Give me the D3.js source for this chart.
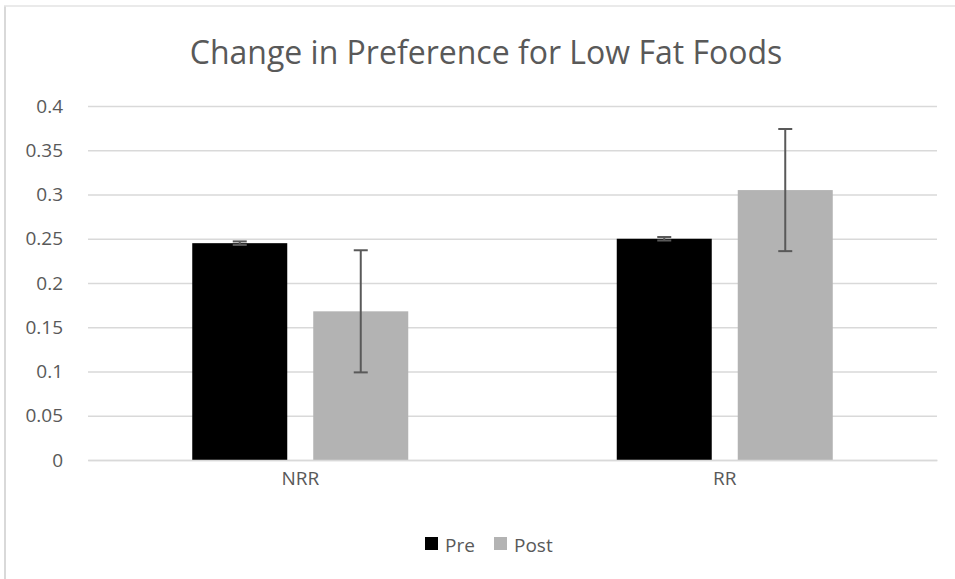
<!DOCTYPE html>
<html><head><meta charset="utf-8">
<script src="https://cdn.jsdelivr.net/npm/d3@7"></script>
<style>body{margin:0;background:#fff}svg{display:block}text{font-family:"Open Sans","Noto Sans",sans-serif;fill:#595959}</style>
</head><body><svg id="c" width="955" height="579"></svg>
<script>
const categories = ["NRR", "RR"];
const seriesNames = ["Pre", "Post"];
const seriesColors = ["#000000", "#b3b3b3"];
const preValues = [0.245, 0.250];
const postValues = [0.168, 0.305];
const preErrors = [0.002, 0.002];
const postErrors = [0.069, 0.069];
const yTicks = [0, 0.05, 0.1, 0.15, 0.2, 0.25, 0.3, 0.35, 0.4];
const title = "Change in Preference for Low Fat Foods";

const svg = d3.select("#c");
// chart frame
svg.append("line").attr("x1",5).attr("x2",5).attr("y1",6).attr("y2",579).attr("stroke","#d9d9d9").attr("stroke-width",2);
svg.append("line").attr("x1",4).attr("x2",955).attr("y1",6).attr("y2",6).attr("stroke","#e3e3e3").attr("stroke-width",1.5);

const m = {l: 88, r: 937, t: 106, b: 460};
const x0 = d3.scaleBand().domain(categories).range([m.l, m.r]).paddingInner(0).paddingOuter(0);
const y = d3.scaleLinear().domain([0, 0.4]).range([m.b, m.t]);

const barW = 95, gap = 26;
const x1 = d3.scaleOrdinal().domain(seriesNames).range([-(gap/2+barW), gap/2]);

// gridlines
const yAxis = d3.axisLeft(y).tickValues(yTicks).tickSize(-(m.r-m.l)).tickPadding(25).tickFormat(d3.format(""));
const ga = svg.append("g").attr("transform", `translate(${m.l},0)`).call(yAxis);
ga.select(".domain").remove();
ga.selectAll(".tick line").attr("stroke", "#d9d9d9").attr("stroke-width", 1.5);
ga.selectAll(".tick text").attr("font-size", 19).style("fill", "#595959");

const data = categories.map((c, i) => ({cat: c, vals: [
  {s: "Pre", v: preValues[i], e: preErrors[i]},
  {s: "Post", v: postValues[i], e: postErrors[i]}
]}));

const g = svg.append("g");
const grp = g.selectAll("g.cat").data(data).join("g").attr("class","cat")
  .attr("transform", d => `translate(${x0(d.cat) + x0.bandwidth()/2},0)`);
grp.selectAll("rect").data(d => d.vals).join("rect")
  .attr("x", d => x1(d.s)).attr("width", barW)
  .attr("y", d => y(d.v)).attr("height", d => y(0) - y(d.v))
  .attr("fill", (d, i) => seriesColors[i]);

// error bars
const eb = grp.selectAll("g.eb").data(d => d.vals).join("g").attr("class","eb");
eb.append("line").attr("x1", d => x1(d.s)+barW/2).attr("x2", d => x1(d.s)+barW/2)
  .attr("y1", d => y(d.v + d.e)).attr("y2", d => y(d.v - d.e)).attr("stroke", "#595959").attr("stroke-width", 2);
eb.selectAll("line.cap").data(d => [d.v + d.e, d.v - d.e].map(v => ({x: x1(d.s)+barW/2, v})))
  .join("line").attr("class","cap").attr("x1", d => d.x-7).attr("x2", d => d.x+7)
  .attr("y1", d => y(d.v)).attr("y2", d => y(d.v)).attr("stroke", "#595959").attr("stroke-width", 2);

// x axis
const xAxis = d3.axisBottom(x0).tickSize(0).tickPadding(12);
const gx = svg.append("g").attr("transform", `translate(0,${m.b})`).call(xAxis);
gx.select(".domain").attr("stroke", "#d9d9d9").attr("stroke-width", 1.5);
gx.selectAll(".tick text").attr("font-size", 19).style("fill", "#595959");

// title
svg.append("text").attr("x", 486).attr("y", 64).attr("text-anchor", "middle")
  .attr("font-size", 32).text(title);

// legend
const legX = [425, 494];
const lg = svg.selectAll("g.leg").data(seriesNames).join("g").attr("class","leg")
  .attr("transform", (d, i) => `translate(${legX[i]},537)`);
lg.append("rect").attr("width", 13).attr("height", 13).attr("fill", (d, i) => seriesColors[i]);
lg.append("text").attr("x", 20).attr("y", 15).attr("font-size", 19).text(d => d);
</script></body></html>
